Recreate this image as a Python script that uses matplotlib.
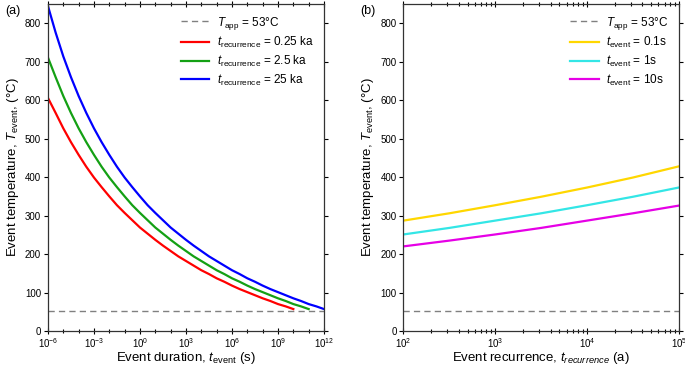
import matplotlib
matplotlib.use("Agg")
import matplotlib.pyplot as plt
import matplotlib.ticker as mticker
import numpy as np

plt.rcParams["font.family"] = ["Liberation Sans", "DejaVu Sans"]
plt.rcParams["mathtext.fontset"] = "custom"
plt.rcParams["mathtext.rm"] = "Liberation Sans"
plt.rcParams["mathtext.it"] = "Liberation Sans:italic"
plt.rcParams["mathtext.bf"] = "Liberation Sans:bold"
plt.rcParams["axes.unicode_minus"] = False

# ---------- data ----------
T_app = 53

# panel (a): event duration (s), half-decade steps from 1e-6, vs event temperature (C)
dur_exp = np.arange(-6, 12.01, 0.5)
T_025ka = [606, 567, 527, 491, 458, 427, 399, 374, 350, 327, 307, 288, 269, 253, 237, 222,
           208, 194, 182, 170, 158, 148, 137, 128, 118, 109, 101, 93, 85, 78, 70, 64, 57]
T_2p5ka = [711, 660, 611, 567, 527, 491, 458, 427, 399, 374, 350, 327, 307, 288, 269, 253,
           237, 222, 208, 194, 182, 170, 158, 148, 137, 128, 118, 109, 101, 93, 85, 78, 70, 64, 57]
T_25ka = [845, 776, 714, 660, 611, 567, 527, 491, 458, 427, 399, 374, 350, 327, 307, 288,
          269, 253, 237, 222, 208, 194, 182, 170, 158, 148, 137, 128, 118, 109, 101, 93, 85,
          78, 70, 64, 57]

# panel (b): recurrence (a) vs event temperature (C)
rec_years = [1e2, 10**2.5, 1e3, 10**3.5, 1e4, 10**4.5, 1e5]
T_01s = [287, 306, 327, 349, 373, 399, 428]
T_1s = [251, 268, 287, 306, 327, 349, 373]
T_10s = [220, 235, 251, 268, 287, 306, 326]

fig = plt.figure(figsize=(6.85, 3.69), dpi=100)
ax1 = fig.add_axes([0.070, 0.103, 0.403, 0.886])
ax2 = fig.add_axes([0.589, 0.103, 0.402, 0.886])

dash_kw = dict(color="#808080", lw=1.0, ls=(0, (4.5, 3)))

# ---------- (a) ----------
dur = 10.0 ** dur_exp
ax1.plot(dur, [T_app] * len(dur), label=r"$T_{\rm app}$ = 53°C", **dash_kw)
ax1.plot(dur[:len(T_025ka)], T_025ka, color="#ff0000", lw=1.6,
         label=r"$t_{\rm recurrence}$ = 0.25 ka")
ax1.plot(dur[:len(T_2p5ka)], T_2p5ka, color="#14a014", lw=1.6,
         label=r"$t_{\rm recurrence}$ = 2.5 ka")
ax1.plot(dur[:len(T_25ka)], T_25ka, color="#0000ff", lw=1.6,
         label=r"$t_{\rm recurrence}$ = 25 ka")
ax1.set_xscale("log")
ax1.set_xlim(1e-6, 1e12)
ax1.xaxis.set_major_locator(mticker.LogLocator(base=1000.0, numticks=20))
ax1.xaxis.set_minor_locator(mticker.LogLocator(base=10.0, subs=(1.0,), numticks=30))
ax1.xaxis.set_minor_formatter(mticker.NullFormatter())
ax1.set_xlabel(r"Event duration, $t_{\rm event}$ (s)", fontsize=9.5, labelpad=0)

# ---------- (b) ----------
ax2.plot([1e2, 1e5], [T_app, T_app], label=r"$T_{\rm app}$ = 53°C", **dash_kw)
ax2.plot(rec_years, T_01s, color="#ffd700", lw=1.6, label=r"$t_{\rm event}$ = 0.1s")
ax2.plot(rec_years, T_1s, color="#33e6e6", lw=1.6, label=r"$t_{\rm event}$ = 1s")
ax2.plot(rec_years, T_10s, color="#e600e6", lw=1.6, label=r"$t_{\rm event}$ = 10s")
ax2.set_xscale("log")
ax2.set_xlim(1e2, 1e5)
ax2.set_xlabel(r"Event recurrence, $t_{recurrence}$ (a)", fontsize=9.5, labelpad=0)

for ax, tag in ((ax1, "(a)"), (ax2, "(b)")):
    ax.set_ylim(0, 850)
    ax.set_yticks(range(0, 900, 100))
    ax.set_ylabel(r"Event temperature, $T_{\rm event}$, (°C)", fontsize=9.5, labelpad=3)
    ax.tick_params(axis="both", which="both", labelsize=7, length=3, width=0.8,
                   top=True, right=True, pad=2)
    ax.tick_params(axis="y", which="major", direction="out")
    ax.tick_params(axis="x", which="both", direction="inout", length=4)
    ax.tick_params(axis="x", which="minor", length=3)
    for s in ax.spines.values():
        s.set_linewidth(0.9)
        s.set_color("#333333")
    ax.legend(loc="upper right", frameon=False, fontsize=8.5, handlelength=2.4,
              handletextpad=0.6, labelspacing=0.3, borderaxespad=0.5)
    fig.text(ax.get_position().x0 - 0.063, 0.962, tag, fontsize=9)

fig.savefig("out.png", dpi=100)
